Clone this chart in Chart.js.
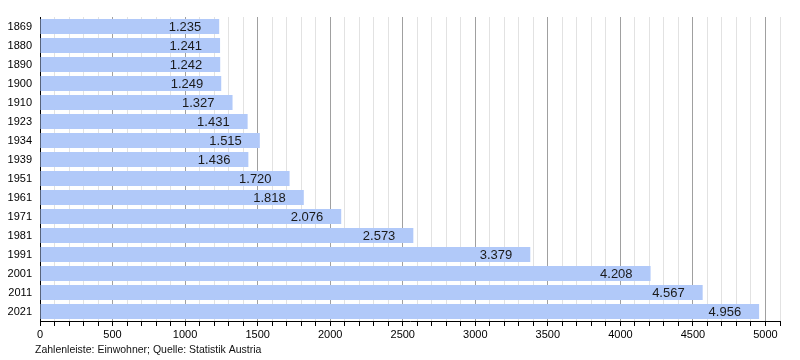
<!DOCTYPE html>
<html><head><meta charset="utf-8">
<script src="https://cdn.jsdelivr.net/npm/chart.js@4/dist/chart.umd.min.js"></script>
<style>html,body{margin:0;padding:0;background:#fff}#wrap{width:800px;height:360px;position:relative}</style>
</head><body><div id="wrap"><canvas id="c" width="800" height="360"></canvas></div>
<script>
const years = ['1869','1880','1890','1900','1910','1923','1934','1939','1951','1961','1971','1981','1991','2001','2011','2021'];
const population = [1235,1241,1242,1249,1327,1431,1515,1436,1720,1818,2076,2573,3379,4208,4567,4956];
const xTickLabels = [0,500,1000,1500,2000,2500,3000,3500,4000,4500,5000];
const footerText = 'Zahlenleiste: Einwohner; Quelle: Statistik Austria';

function fmt(v){return String(v).replace(/\B(?=(\d{3})+(?!\d))/g,'.');}

const valueLabels = {
  id:'valueLabels',
  afterDatasetsDraw(chart){
    const ctx = chart.ctx;
    const meta = chart.getDatasetMeta(0);
    ctx.save();
    ctx.font = '13px "Liberation Sans", Arial, sans-serif';
    ctx.fillStyle = '#1a1a1a';
    ctx.textAlign = 'right';
    ctx.textBaseline = 'middle';
    meta.data.forEach((bar,i)=>{
      ctx.fillText(fmt(population[i]), bar.x - 18, bar.y + 1);
    });
    ctx.restore();
  }
};
const footer = {
  id:'footer',
  afterDraw(chart){
    const ctx = chart.ctx;
    ctx.save();
    ctx.font = '10.5px "Liberation Sans", Arial, sans-serif';
    ctx.fillStyle = '#111';
    ctx.textAlign = 'left';
    ctx.textBaseline = 'middle';
    ctx.fillText(footerText, 35, 350);
    ctx.restore();
  }
};

new Chart(document.getElementById('c'), {
  type:'bar',
  data:{labels:years, datasets:[{data:population, backgroundColor:'#b1c9f9', borderWidth:0, barPercentage:0.8, categoryPercentage:1}]},
  options:{
    indexAxis:'y', responsive:false, animation:false,
    layout:{padding:{top:17,right:20,bottom:15,left:0}},
    plugins:{legend:{display:false}, tooltip:{enabled:false}},
    scales:{
      x:{
        min:0, max:5100,
        afterFit(s){s.height=24;},
        ticks:{stepSize:100, autoSkip:false, maxRotation:0, color:'#000', font:{size:11, family:'"Liberation Sans", Arial, sans-serif'}, padding:2,
          callback(v){return xTickLabels.includes(v)?String(v):'';}},
        grid:{drawTicks:true, tickLength:5, tickColor:'#000',
          color(c){const v=c.tick&&c.tick.value; if(v===0) return 'rgba(0,0,0,0)'; return (v%500===0)?'#a0a0a0':'#e2e2e2';},
          lineWidth:1},
        border:{display:true, color:'#000', width:1}
      },
      y:{
        afterFit(s){s.width=40;},
        ticks:{color:'#000', font:{size:11, family:'"Liberation Sans", Arial, sans-serif'}, padding:8},
        grid:{display:false, drawTicks:false},
        border:{display:true, color:'#000', width:1}
      }
    }
  },
  plugins:[valueLabels, footer]
});
</script></body></html>
